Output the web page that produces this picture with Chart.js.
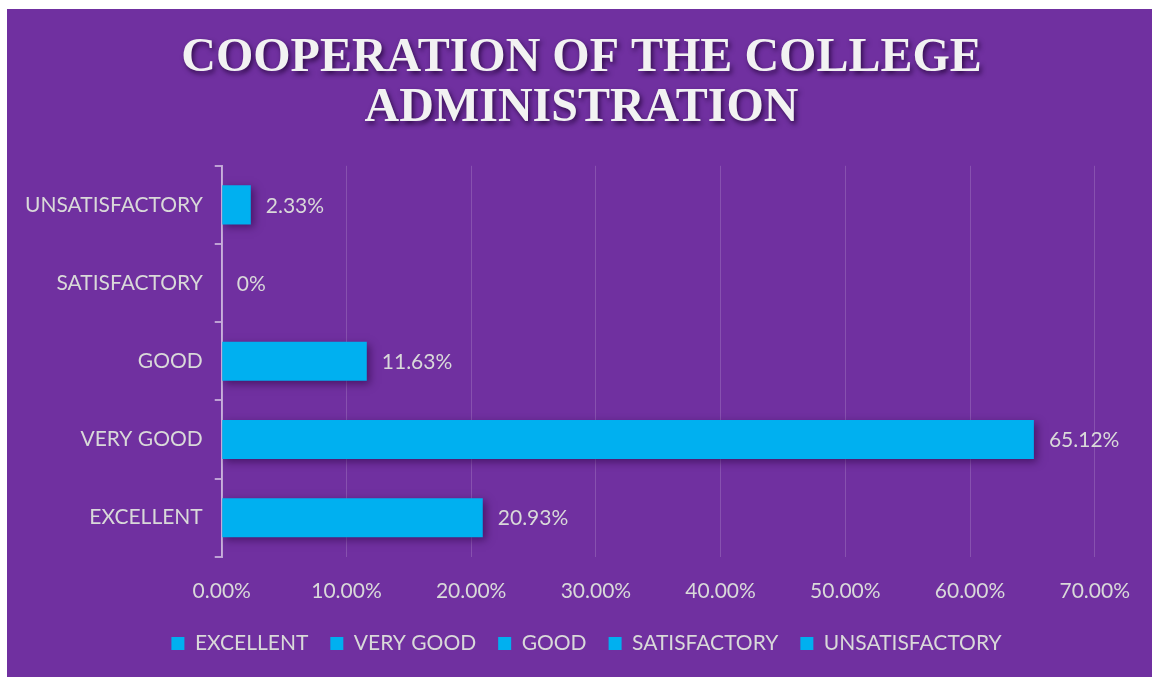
<!DOCTYPE html>
<html>
<head>
<meta charset="utf-8">
<script src="https://cdn.jsdelivr.net/npm/chart.js@4"></script>
<style>
html,body{margin:0;padding:0;background:#fff;}
#wrap{position:absolute;left:7px;top:9px;width:1145px;height:668px;background:#7030A0;}
canvas{display:block;}
</style>
</head>
<body>
<div id="wrap"><canvas id="c" width="1145" height="668"></canvas></div>
<script>
const titleLines = ['COOPERATION OF THE COLLEGE', 'ADMINISTRATION'];
const categories = ['EXCELLENT', 'VERY GOOD', 'GOOD', 'SATISFACTORY', 'UNSATISFACTORY'];
const values = [20.93, 65.12, 11.63, 0, 2.33];
const valueLabels = ['20.93%', '65.12%', '11.63%', '0%', '2.33%'];
const xTicks = [0, 10, 20, 30, 40, 50, 60, 70];

const barColor = '#00B0F0';
const textColor = '#D9D9D9';
const labelFont = {family: 'Lato, "Open Sans", sans-serif', size: 21};

const shadowPlugin = {
  id: 'barShadow',
  beforeDatasetsDraw(chart) {
    const ctx = chart.ctx;
    ctx.save();
    ctx.shadowColor = 'rgba(40,0,60,0.55)';
    ctx.shadowBlur = 8;
    ctx.shadowOffsetX = 3;
    ctx.shadowOffsetY = 3;
  },
  afterDatasetsDraw(chart) {
    const ctx = chart.ctx;
    ctx.restore();
    const meta = chart.getDatasetMeta(0);
    ctx.save();
    ctx.fillStyle = textColor;
    ctx.font = '21px Lato, "Open Sans", sans-serif';
    ctx.textAlign = 'left';
    ctx.textBaseline = 'middle';
    meta.data.forEach((bar, i) => {
      ctx.fillText(valueLabels[i], bar.x + 15, bar.y + 1);
    });
    ctx.restore();
  }
};

const boxTweaksPlugin = {
  id: 'boxTweaks',
  afterInit(chart) {
    const tb = chart.titleBlock;
    if (tb) {
      const orig = tb.draw.bind(tb);
      tb.draw = function() {
        const ctx = chart.ctx;
        ctx.save();
        ctx.translate(25, 0);
        ctx.shadowColor = 'rgba(30,0,50,0.75)';
        ctx.shadowBlur = 5;
        ctx.shadowOffsetX = 2;
        ctx.shadowOffsetY = 3;
        orig();
        ctx.restore();
      };
    }
    const lg = chart.legend;
    if (lg) {
      const ofit = lg.fit.bind(lg);
      lg.fit = function() {
        ofit();
        this.height -= 14;
      };
      const odraw = lg.draw.bind(lg);
      lg.draw = function() {
        const dx = 30, dy = -15;
        this.left += dx; this.right += dx; this.top += dy; this.bottom += dy;
        odraw();
        this.left -= dx; this.right -= dx; this.top -= dy; this.bottom -= dy;
      };
    }
  }
};

new Chart(document.getElementById('c'), {
  type: 'bar',
  data: {
    labels: categories,
    datasets: [{
      data: values,
      backgroundColor: barColor,
      borderWidth: 0,
      categoryPercentage: 0.5,
      barPercentage: 1.0
    }]
  },
  options: {
    indexAxis: 'y',
    responsive: false,
    animation: false,
    layout: {padding: {left: 6, right: 52, top: 24, bottom: 12}},
    scales: {
      x: {
        min: 0, max: 70,
        afterBuildTicks(axis) { axis.ticks = xTicks.map(v => ({value: v})); },
        ticks: {
          color: textColor, font: labelFont, padding: 22,
          callback: v => v.toFixed(2) + '%'
        },
        grid: {color: 'rgba(255,255,255,0.16)', lineWidth: 1, tickLength: 0, drawTicks: false},
        border: {display: false}
      },
      y: {
        reverse: true,
        offset: true,
        ticks: {color: textColor, font: labelFont, padding: 12},
        grid: {offset: true, drawOnChartArea: false, drawTicks: true, tickLength: 7, color: 'rgba(255,255,255,0.55)', lineWidth: 2},
        border: {display: true, color: 'rgba(255,255,255,0.55)', width: 2}
      }
    },
    plugins: {
      title: {
        display: true,
        text: titleLines,
        color: '#F2F2F2',
        font: {family: '"Liberation Serif", "DejaVu Serif", serif', size: 48, weight: 'bold', lineHeight: 1.05},
        padding: {top: 0, bottom: 32}
      },
      legend: {
        display: true,
        position: 'bottom',
        labels: {
          color: textColor,
          font: labelFont,
          boxWidth: 13, boxHeight: 13,
          padding: 22,
          generateLabels: () => categories.map((c, i) => ({
            text: c, fillStyle: barColor, strokeStyle: barColor, lineWidth: 0, hidden: false, index: i, fontColor: textColor
          }))
        }
      },
      tooltip: {enabled: false}
    }
  },
  plugins: [shadowPlugin, boxTweaksPlugin]
});
</script>
</body>
</html>
